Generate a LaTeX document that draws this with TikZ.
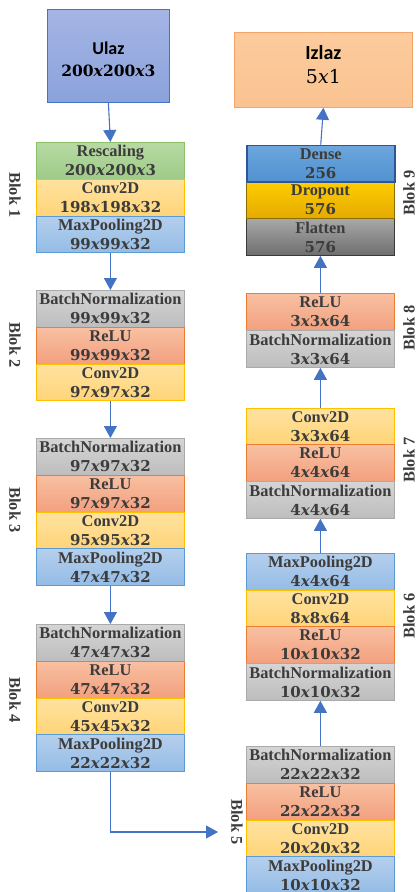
\documentclass[tikz,border=0pt]{standalone}
\usepackage{fontspec}
\setmainfont{Liberation Serif}
\newfontfamily\calfont{Carlito}
\newfontfamily\numfont{DejaVu Serif}
\usetikzlibrary{arrows.meta}
\definecolor{txt}{HTML}{3C3C3C}
\definecolor{arrc}{HTML}{4472C4}
\tikzset{
  lay/.style={draw, line width=0.8pt, minimum width=148pt, minimum height=36.8pt, inner sep=0pt,
    align=center, font=\fontsize{16.4}{19}\selectfont\bfseries, text=txt, anchor=north west},
  grn/.style={top color={rgb,255:red,183;green,218;blue,163}, bottom color={rgb,255:red,158;green,203;blue,135}, draw={rgb,255:red,140;green,193;blue,104}},
  ylw/.style={top color={rgb,255:red,255;green,226;blue,160}, bottom color={rgb,255:red,255;green,212;blue,120}, draw={rgb,255:red,255;green,192;blue,0}},
  blu/.style={top color={rgb,255:red,181;green,207;blue,236}, bottom color={rgb,255:red,148;green,188;blue,230}, draw={rgb,255:red,91;green,155;blue,213}},
  gry/.style={top color={rgb,255:red,213;green,213;blue,213}, bottom color={rgb,255:red,189;green,189;blue,189}, draw={rgb,255:red,170;green,170;blue,170}},
  red/.style={top color={rgb,255:red,248;green,192;blue,162}, bottom color={rgb,255:red,242;green,160;blue,126}, draw={rgb,255:red,237;green,125;blue,49}},
  dense/.style={top color={rgb,255:red,108;green,166;blue,220}, bottom color={rgb,255:red,80;green,145;blue,208}, draw={rgb,255:red,47;green,85;blue,151}, line width=1.5pt},
  drop/.style={top color={rgb,255:red,255;green,205;blue,0}, bottom color={rgb,255:red,228;green,170;blue,0}, draw={rgb,255:red,140;green,109;blue,0}},
  flat/.style={top color={rgb,255:red,168;green,168;blue,168}, bottom color={rgb,255:red,110;green,110;blue,110}, draw={rgb,255:red,58;green,58;blue,58}},
  arr/.style={draw=arrc, line width=1.1pt, -{Triangle[width=13pt,length=12pt]}},
  blk/.style={font=\fontsize{16.4}{19}\selectfont\bfseries, text=txt, inner sep=0pt},
}
\newcommand\lyr[6]{\node[lay,#4] (#1) at (#2,#3) {#5\\{\numfont\fontsize{15}{19}\selectfont #6}};}
\newcommand\dm[3]{#1\textit{x}#2\textit{x}#3}
\begin{document}
\begin{tikzpicture}[x=1pt,y=-1pt]
\useasboundingbox (0,0) rectangle (417,892);
% input / output
\node[draw=arrc, line width=0.8pt, top color={rgb,255:red,165;green,181;blue,229}, bottom color={rgb,255:red,138;green,162;blue,219},
  minimum width=122pt, minimum height=93pt, anchor=north west, align=center, inner sep=0pt,
  font=\fontsize{18}{22}\selectfont\bfseries, text=black] (ulaz) at (47,9)
  {\rule{0pt}{19.5pt}{\calfont Ulaz}\\{\numfont\fontsize{15.5}{22}\selectfont\dm{200}{200}{3}}};
\node[draw={rgb,255:red,244;green,164;blue,104}, line width=0.8pt, top color={rgb,255:red,252;green,203;blue,156}, bottom color={rgb,255:red,250;green,195;blue,145},
  minimum width=178pt, minimum height=75pt, anchor=north west, align=center, inner sep=0pt,
  font=\fontsize{20}{24}\selectfont, text=black] (izlaz) at (234,32)
  {{\calfont\bfseries Izlaz}\\{\numfont\fontsize{19}{24}\selectfont 5\textit{x}1}\rule[-11pt]{0pt}{1pt}};
% block 1
\lyr{resc}{36}{142}{grn}{Rescaling}{\dm{200}{200}{3}}
\lyr{c1}{36}{178.8}{ylw}{Conv2D}{\dm{198}{198}{32}}
\lyr{m1}{36}{215.6}{blu}{MaxPooling2D}{\dm{99}{99}{32}}
% block 2
\lyr{b2}{36}{290}{gry}{BatchNormalization}{\dm{99}{99}{32}}
\lyr{r2}{36}{326.8}{red}{ReLU}{\dm{99}{99}{32}}
\lyr{c2}{36}{363.6}{ylw}{Conv2D}{\dm{97}{97}{32}}
% block 3
\lyr{b3}{36}{438}{gry}{BatchNormalization}{\dm{97}{97}{32}}
\lyr{r3}{36}{474.8}{red}{ReLU}{\dm{97}{97}{32}}
\lyr{c3}{36}{511.6}{ylw}{Conv2D}{\dm{95}{95}{32}}
\lyr{m3}{36}{548.4}{blu}{MaxPooling2D}{\dm{47}{47}{32}}
% block 4
\lyr{b4}{36}{624}{gry}{BatchNormalization}{\dm{47}{47}{32}}
\lyr{r4}{36}{660.8}{red}{ReLU}{\dm{47}{47}{32}}
\lyr{c4}{36}{697.6}{ylw}{Conv2D}{\dm{45}{45}{32}}
\lyr{m4}{36}{734.4}{blu}{MaxPooling2D}{\dm{22}{22}{32}}
% block 5
\lyr{b5}{246}{746}{gry}{BatchNormalization}{\dm{22}{22}{32}}
\lyr{r5}{246}{782.8}{red}{ReLU}{\dm{22}{22}{32}}
\lyr{c5}{246}{819.6}{ylw}{Conv2D}{\dm{20}{20}{32}}
\lyr{m5}{246}{856.4}{blu}{MaxPooling2D}{\dm{10}{10}{32}}
% block 6
\lyr{m6}{246}{552.8}{blu}{MaxPooling2D}{\dm{4}{4}{64}}
\lyr{c6}{246}{589.6}{ylw}{Conv2D}{\dm{8}{8}{64}}
\lyr{r6}{246}{626.4}{red}{ReLU}{\dm{10}{10}{32}}
\lyr{b6}{246}{663.2}{gry}{BatchNormalization}{\dm{10}{10}{32}}
% block 7
\lyr{c7}{246}{407.6}{ylw}{Conv2D}{\dm{3}{3}{64}}
\lyr{r7}{246}{444.4}{red}{ReLU}{\dm{4}{4}{64}}
\lyr{b7}{246}{481.2}{gry}{BatchNormalization}{\dm{4}{4}{64}}
% block 8
\lyr{r8}{246}{293.4}{red}{ReLU}{\dm{3}{3}{64}}
\lyr{b8}{246}{330.2}{gry}{BatchNormalization}{\dm{3}{3}{64}}
% block 9
\lyr{fl}{246}{218.2}{flat}{Flatten}{576}
\lyr{dr}{246}{181.4}{drop}{Dropout}{576}
\lyr{de}{246}{144.6}{dense}{Dense}{256}
% block labels
\node[blk, rotate=-90] (l1) at (15,195) {Blok 1};
\node[blk, rotate=-90] (l2) at (15,345) {Blok 2};
\node[blk, rotate=-90] (l3) at (15,510) {Blok 3};
\node[blk, rotate=-90] (l4) at (15,700) {Blok 4};
\node[blk, rotate=-90] (l5) at (237,822) {Blok 5};
\node[blk, rotate=90] (l6) at (409,616) {Blok 6};
\node[blk, rotate=90] (l7) at (409,460) {Blok 7};
\node[blk, rotate=90] (l8) at (409,328) {Blok 8};
\node[blk, rotate=90] (l9) at (409,193) {Blok 9};
% arrows
\coordinate (a5) at (218,832);
\draw[arr] (ulaz.south) -- (resc.north);
\draw[arr] (m1.south) -- (b2.north);
\draw[arr] (c2.south) -- (b3.north);
\draw[arr] (m3.south) -- (b4.north);
\draw[arr] (m4.south) |- (a5);
\draw[arr] (b5.north) -- (b6.south);
\draw[arr] (m6.north) -- (b7.south);
\draw[arr] (c7.north) -- (b8.south);
\draw[arr] (r8.north) -- (fl.south);
\draw[arr] (de.north) -- (izlaz.south);
\end{tikzpicture}
\end{document}
